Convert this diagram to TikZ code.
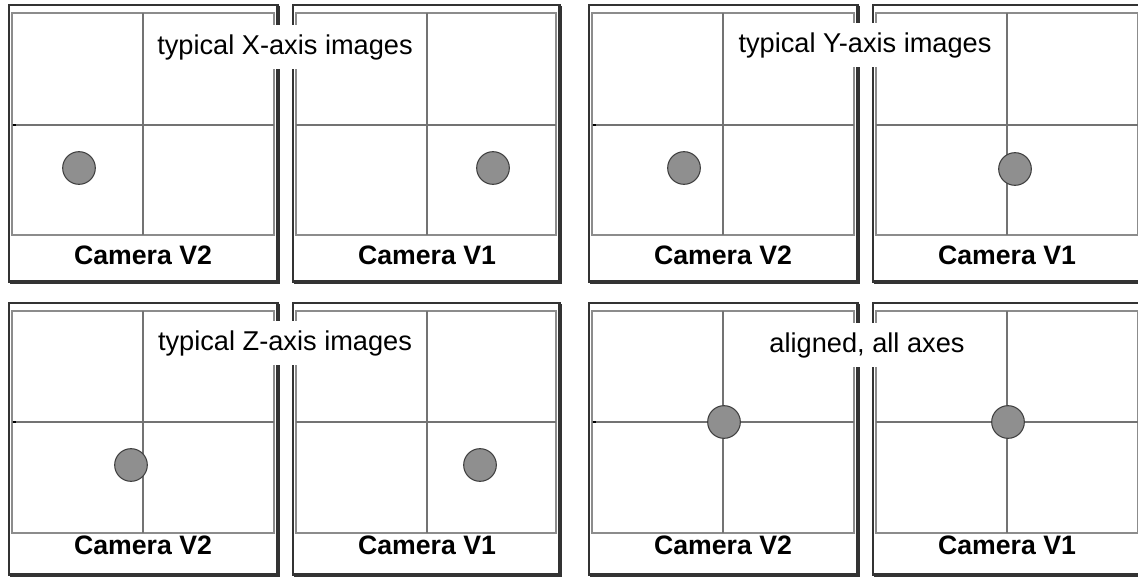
\documentclass[tikz,border=0pt]{standalone}
\usepackage{fontspec}
\setmainfont{Liberation Sans}
\usetikzlibrary{positioning}

\begin{document}
\begin{tikzpicture}[
    x=0.75pt, y=-0.75pt,
    frame/.style={draw=black!80, line width=1.6pt},
    shadowline/.style={draw=black!80, line width=2.6pt},
    imgbox/.style={draw=black!45, line width=1.1pt},
    hair/.style={draw=black!55, line width=1.2pt},
    tickmark/.style={draw=black, line width=1.4pt},
    spot/.style={
        circle, draw=black!75, line width=0.8pt,
        minimum size=24.5pt, inner sep=0pt,
        fill=black!44
    },
    camlab/.style={
        anchor=base, inner sep=0pt,
        font=\bfseries\fontsize{20}{24}\selectfont
    },
    heading/.style={
        fill=white, inner xsep=7pt, inner ysep=0pt,
        minimum height=33pt,
        font=\fontsize{20.4}{24}\selectfont
    }
]

    % page
    \clip (0,0) rectangle (1138,577);
    \fill[white] (0,0) rectangle (1138,577);

    % camera frames, two rows of four
    \foreach \col/\ol/\orr/\cx/\cam in {1/9/278/143/V2, 2/293/560/427/V1,
                                         3/589/858/723/V2, 4/873/1142/1007/V1}
    \foreach \row/\ot/\ob/\it/\ib/\cy/\lb in {1/5/282/13/235/125/264,
                                             2/303/575/311/533/422/554} {
        \draw[frame] (\ol,\ot) rectangle (\orr,\ob);
        \draw[shadowline] (\ol+1,\ob) -- (\orr,\ob) -- (\orr,\ot+1);
        \draw[imgbox] (\ol+3,\it) rectangle (\orr-4,\ib);
        \draw[hair] (\ol+3,\cy) -- (\orr-4,\cy);
        \draw[hair] (\cx,\it) -- (\cx,\ib);
        \node[camlab] (lab\col\row) at (\cx,\lb) {Camera \cam};
    }

    % small marks on the V2 images
    \foreach \ol in {9,589}
    \foreach \cy in {125,422}
        \draw[tickmark] (\ol+4,\cy) -- (\ol+7,\cy);

    % target spots
    \node[spot] (xV2) at (79,168)   {};
    \node[spot] (xV1) at (493,168)  {};
    \node[spot] (yV2) at (684,168)  {};
    \node[spot] (yV1) at (1015,169) {};
    \node[spot] (zV2) at (131,465)  {};
    \node[spot] (zV1) at (480,465)  {};
    \node[spot] (aV2) at (724,422)  {};
    \node[spot] (aV1) at (1008,422) {};

    % headings
    \node[heading] (hx) at (285,47)  {typical X-axis images};
    \node[heading] (hy) at (865,45)  {typical Y-axis images};
    \node[heading] (hz) at (285,343) {typical Z-axis images};
    \node[heading] (ha) at (867,345) {aligned, all axes};

\end{tikzpicture}
\end{document}
